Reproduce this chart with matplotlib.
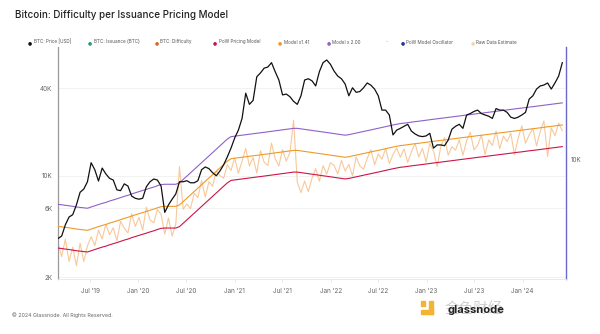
import matplotlib
matplotlib.use("Agg")
import matplotlib.pyplot as plt
import matplotlib.patches as mpatches
import pandas as pd

# ---------------- data (values in thousands of USD, 14-day steps) ----------------
start_date = "2019-03-01"

price_k = [
    3.7, 3.85, 4.6, 5.2, 5.4, 6.3, 7.7, 8.1, 9.1, 12.3,
    11.0, 9.2, 11.3, 10.3, 9.6, 9.35, 8.0, 7.9, 8.8, 8.5,
    7.25, 7.0, 6.9, 7.0, 8.4, 9.1, 9.5, 9.35, 8.5, 5.6,
    6.3, 6.9, 7.5, 9.1, 9.1, 9.25, 8.95, 8.95, 9.25, 11.0,
    11.5, 11.2, 10.5, 10.0, 10.8, 11.9, 13.5, 15.5, 18.2, 20.6,
    24.8, 37.0, 31.0, 33.0, 48.0, 51.0, 55.0, 56.0, 60.0, 52.0,
    45.6, 36.0, 36.5, 35.0, 32.5, 31.0, 35.5, 45.6, 46.5, 45.0,
    41.5, 52.0, 60.0, 62.6, 58.5, 52.5, 48.5, 46.5, 42.8, 35.5,
    40.3, 37.5, 38.0, 40.3, 43.5, 42.0, 39.5, 35.5, 28.3, 28.3,
    26.2, 19.1, 20.6, 21.2, 21.9, 22.6, 20.3, 19.4, 18.8, 18.6,
    18.8, 19.6, 15.5, 16.3, 16.3, 16.1, 17.6, 20.9, 21.9, 22.6,
    21.2, 26.2, 26.8, 27.7, 28.3, 26.8, 26.2, 25.7, 24.8, 29.0,
    28.3, 28.3, 27.3, 25.3, 24.8, 25.3, 26.2, 27.3, 33.7, 35.5,
    39.5, 41.5, 42.1, 43.5, 39.5, 43.5, 48.5, 60.0,
]

pow_model_k = [
    3.18, 3.16, 3.13, 3.11, 3.08, 3.05, 3.03, 3.01, 2.99, 3.05,
    3.11, 3.17, 3.23, 3.28, 3.35, 3.41, 3.47, 3.54, 3.61, 3.67,
    3.75, 3.82, 3.89, 3.96, 4.03, 4.11, 4.18, 4.27, 4.35, 4.37,
    4.37, 4.37, 4.37, 4.47, 4.71, 4.97, 5.24, 5.53, 5.84, 6.15,
    6.49, 6.84, 7.22, 7.62, 8.03, 8.47, 8.94, 9.29, 9.37, 9.44,
    9.51, 9.59, 9.65, 9.73, 9.81, 9.87, 9.95, 10.03, 10.11, 10.19,
    10.28, 10.36, 10.43, 10.51, 10.60, 10.60, 10.51, 10.43, 10.33, 10.25,
    10.17, 10.09, 10.01, 9.93, 9.84, 9.75, 9.67, 9.59, 9.51, 9.59,
    9.71, 9.84, 9.97, 10.09, 10.22, 10.34, 10.48, 10.61, 10.75, 10.89,
    11.03, 11.18, 11.30, 11.44, 11.51, 11.61, 11.70, 11.78, 11.87, 11.97,
    12.05, 12.15, 12.24, 12.32, 12.42, 12.52, 12.60, 12.70, 12.80, 12.88,
    12.99, 13.09, 13.18, 13.28, 13.39, 13.47, 13.58, 13.69, 13.78, 13.89,
    13.98, 14.09, 14.20, 14.32, 14.40, 14.52, 14.61, 14.73, 14.85, 14.94,
    15.06, 15.18, 15.30, 15.40, 15.52, 15.62, 15.74, 15.87,
]

raw_estimate_k = [
    3.44, 2.78, 3.67, 2.57, 3.23, 2.41, 3.44, 2.57, 3.29, 3.81,
    3.31, 4.22, 3.67, 4.65, 3.93, 4.39, 3.58, 4.86, 4.36, 4.04,
    5.48, 4.48, 5.17, 4.22, 6.08, 4.97, 4.74, 5.86, 5.43, 3.97,
    5.12, 3.85, 4.65, 11.55, 5.88, 6.40, 5.95, 7.59, 7.06, 9.28,
    7.14, 9.10, 8.46, 10.80, 10.02, 9.61, 11.89, 10.89, 13.28, 10.38,
    12.65, 15.42, 11.67, 13.36, 10.45, 14.89, 12.42, 11.76, 16.77, 13.12,
    11.67, 15.15, 12.61, 14.43, 24.14, 9.04, 7.66, 9.19, 7.77, 9.62,
    11.19, 9.17, 11.73, 10.25, 12.28, 11.79, 10.30, 12.75, 10.79, 11.97,
    10.02, 13.51, 11.68, 11.10, 13.16, 15.12, 11.89, 14.11, 13.00, 15.43,
    12.13, 13.95, 15.51, 13.41, 15.31, 12.36, 14.60, 16.69, 13.47, 15.42,
    12.44, 16.68, 14.80, 11.57, 16.00, 18.30, 13.86, 15.85, 15.00, 17.68,
    13.83, 17.41, 19.89, 15.07, 16.19, 19.09, 14.01, 17.63, 16.15, 20.31,
    15.38, 18.74, 17.17, 19.66, 13.95, 18.12, 22.05, 16.72, 19.13, 21.17,
    16.04, 20.19, 23.82, 13.57, 21.31, 18.88, 23.01, 20.44,
]

model_multipliers = [1.41, 2.00]

y_tick_values = [2000, 6000, 10000, 40000]
y_tick_labels = ["2K", "6K", "10K", "40K"]
x_tick_dates = ["2019-07-01", "2020-01-01", "2020-07-01", "2021-01-01", "2021-07-01",
                "2022-01-01", "2022-07-01", "2023-01-01", "2023-07-01", "2024-01-01"]
x_tick_labels = ["Jul '19", "Jan '20", "Jul '20", "Jan '21", "Jul '21",
                 "Jan '22", "Jul '22", "Jan '23", "Jul '23", "Jan '24"]

legend_labels = ["BTC: Price [USD]", "BTC: Issuance (BTC)", "BTC: Difficulty",
                 "PoW Pricing Model", "Model x1.41", "Model x 2.00", "",
                 "PoW Model Oscillator", "Raw Data Estimate"]

# ---------------- styling ----------------
plt.rcParams["font.family"] = ["Inter", "DejaVu Sans"]

C_PRICE = "#111111"
C_ISSUANCE = "#1f9e6e"
C_DIFF = "#e0622c"
C_MODEL = "#cc1447"
C_141 = "#ee9a2a"
C_200 = "#9060c8"
C_OSC = "#27318f"
C_RAW = "#f8c594"
C_AXIS_TEXT = "#666666"

legend_colors = [C_PRICE, C_ISSUANCE, C_DIFF, C_MODEL, C_141, C_200, None, C_OSC, "#f9d3ae"]
legend_x_px = [30, 90, 157, 215, 280, 329, 386, 403, 473]

dates = pd.date_range(start_date, periods=len(price_k), freq="14D")
price = pd.Series(price_k, index=dates) * 1000
model = pd.Series(pow_model_k, index=dates) * 1000
raw = pd.Series(raw_estimate_k, index=dates) * 1000

W, H = 600, 334
fig = plt.figure(figsize=(W / 100, H / 100), dpi=100)
fig.patch.set_facecolor("white")

ax = fig.add_axes([58 / W, 1 - 279.3 / H, (566 - 58) / W, (279.3 - 47) / H])

ax.plot(raw.index, raw.values, color=C_RAW, lw=0.8, alpha=0.95, zorder=1)
ax.plot(model.index, model.values, color=C_MODEL, lw=0.8, zorder=3)
ax.plot(model.index, model.values * model_multipliers[0], color=C_141, lw=0.8, zorder=3)
ax.plot(model.index, model.values * model_multipliers[1], color=C_200, lw=0.8, zorder=3)
ax.plot(price.index, price.values, color=C_PRICE, lw=0.9, zorder=4)

ax.set_yscale("log")
ax.set_ylim(1940, 76900)
ax.set_xlim(pd.Timestamp(start_date), pd.Timestamp("2024-06-14"))

ax.yaxis.set_major_locator(plt.FixedLocator(y_tick_values))
ax.yaxis.set_major_formatter(plt.FixedFormatter(y_tick_labels))
ax.yaxis.set_minor_locator(plt.NullLocator())
ax.set_xticks(pd.to_datetime(x_tick_dates))
ax.set_xticklabels(x_tick_labels)
ax.xaxis.set_minor_locator(plt.NullLocator())

ax.tick_params(axis="y", length=0, pad=4, labelsize=4.6, labelcolor=C_AXIS_TEXT)
ax.tick_params(axis="x", length=2.5, width=0.5, color="#dddddd", pad=4,
               labelsize=4.6, labelcolor=C_AXIS_TEXT)

ax.grid(axis="y", color="#f0f0f0", lw=0.6)
ax.set_axisbelow(True)

ax.spines["top"].set_visible(False)
ax.spines["left"].set_color("#9a9a9a")
ax.spines["left"].set_linewidth(0.9)
ax.spines["bottom"].set_color("#e6e6e6")
ax.spines["bottom"].set_linewidth(0.6)
ax.spines["right"].set_color("#6a6acb")
ax.spines["right"].set_linewidth(1.0)

# right-axis label for oscillator
fig.text(571 / W, 1 - 160 / H, "10K", fontsize=4.6, color=C_AXIS_TEXT,
         ha="left", va="center")

# title
fig.text(15 / W, 1 - 15 / H, "Bitcoin: Difficulty per Issuance Pricing Model",
         fontsize=7.1, color="#222222", ha="left", va="center", fontweight="medium")

# legend
for lab, col, xp in zip(legend_labels, legend_colors, legend_x_px):
    if col is None:
        fig.text(xp / W, 1 - 42 / H, "-", fontsize=3.6, color="#aaaaaa",
                 ha="left", va="center")
        continue
    fig.text(xp / W, 1 - 42.3 / H, "\u25cf", fontsize=3.4, color=col,
             ha="center", va="center", family=["DejaVu Sans"])
    fig.text((xp + 3.5) / W, 1 - 42 / H, lab, fontsize=3.35, color="#555555",
             ha="left", va="center")

# footer
fig.text(12 / W, 1 - 315 / H, "\u00a9 2024 Glassnode. All Rights Reserved.",
         fontsize=3.8, color="#666666", ha="left", va="center")

# logo / watermark
fig.patches.append(mpatches.Rectangle((421 / W, 1 - 306 / H), 4 / W, 5 / H,
                                      transform=fig.transFigure, color="#f2b431"))
fig.patches.append(mpatches.Rectangle((421 / W, 1 - 314 / H), 12 / W, 4 / H,
                                      transform=fig.transFigure, color="#f2b431"))
fig.patches.append(mpatches.Rectangle((429 / W, 1 - 314 / H), 4 / W, 13 / H,
                                      transform=fig.transFigure, color="#f2b431"))
fig.text(445 / W, 1 - 309 / H, "\u91d1\u8272\u8d22\u7ecf", fontsize=10.5,
         color="#cfcfcf", ha="left", va="center",
         family=["Noto Sans CJK SC", "DejaVu Sans"])
fig.text(448 / W, 1 - 310 / H, "glassnode", fontsize=8, color="#222222",
         ha="left", va="center", fontweight="bold")

fig.savefig("out.png", dpi=100, facecolor="white")
